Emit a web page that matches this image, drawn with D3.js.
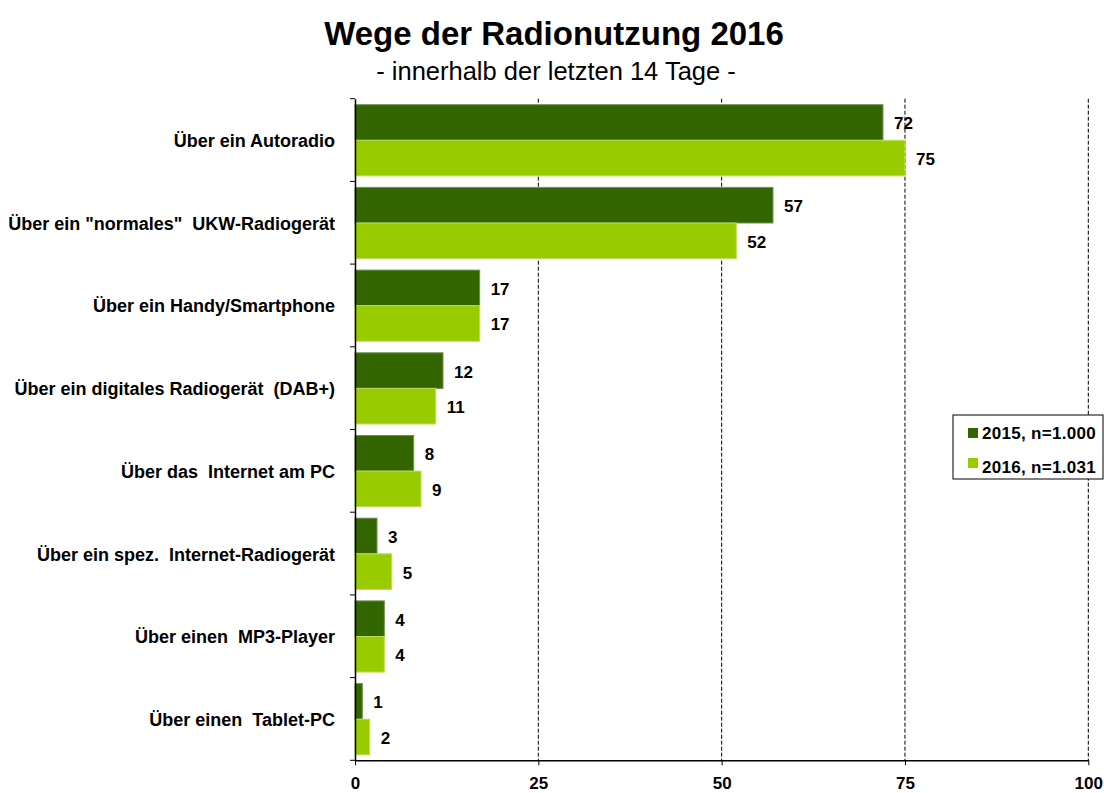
<!DOCTYPE html>
<html>
<head>
<meta charset="utf-8">
<script src="https://cdn.jsdelivr.net/npm/d3@7"></script>
<style>
  body { margin: 0; background: #fff; }
  svg text { font-family: "Liberation Sans", Arial, sans-serif; }
</style>
</head>
<body>
<div id="graph"></div>
<script>
// Daten
const categories = [
  'Über ein Autoradio',
  'Über ein "normales"  UKW-Radiogerät',
  'Über ein Handy/Smartphone',
  'Über ein digitales Radiogerät  (DAB+)',
  'Über das  Internet am PC',
  'Über ein spez.  Internet-Radiogerät',
  'Über einen  MP3-Player',
  'Über einen  Tablet-PC'
]
const values2015 = [72, 57, 17, 12, 8, 3, 4, 1]
const values2016 = [75, 52, 17, 11, 9, 5, 4, 2]
const seriesNames = ['2015, n=1.000', '2016, n=1.031']
const xTicks = [0, 25, 50, 75, 100]

const colors = ['#336600', '#99cc00']

let W = 1104, H = 793
let margin = { top: 98.7, left: 355 }
let width = 1088.3 - margin.left,
    height = 760.3 - margin.top

let svg = d3.select('#graph')
  .append('svg')
  .attr('width', W)
  .attr('height', H)

// Titel
svg.append('text')
  .attr('x', 554).attr('y', 45)
  .attr('text-anchor', 'middle')
  .style('font-size', '33px')
  .style('font-weight', 'bold')
  .text('Wege der Radionutzung 2016')

svg.append('text')
  .attr('x', 556).attr('y', 80)
  .attr('text-anchor', 'middle')
  .style('font-size', '25.5px')
  .text('- innerhalb der letzten 14 Tage -')

let g = svg.append('g')
  .attr('transform', 'translate(' + margin.left + ',' + margin.top + ')')

let x = d3.scaleLinear().domain([0, 100]).range([0, width])
let y = d3.scaleBand().domain(categories).range([0, height])
let inner = d3.scaleBand().domain([0, 1]).range([6, y.bandwidth() - 5.5])

// Gitterlinien
g.append('g')
  .selectAll('line')
  .data(xTicks.filter(d => d > 0))
  .join('line')
  .attr('x1', d => x(d)).attr('x2', d => x(d))
  .attr('y1', 0).attr('y2', height)
  .attr('stroke', '#000')
  .attr('stroke-width', 1)
  .attr('stroke-dasharray', '4,2')

// Balken
const series = [values2015, values2016]
series.forEach((vals, si) => {
  g.append('g')
    .selectAll('rect')
    .data(vals)
    .join('rect')
    .attr('x', 0)
    .attr('y', (d, i) => y(categories[i]) + inner(si))
    .attr('width', d => x(d))
    .attr('height', inner.bandwidth())
    .attr('fill', colors[si])
    .attr('stroke', si === 0 ? '#6f8f55' : '#bcdc60')
    .attr('stroke-width', 1)

  g.append('g')
    .selectAll('text')
    .data(vals)
    .join('text')
    .attr('x', d => x(d) + 11)
    .attr('y', (d, i) => y(categories[i]) + inner(si) + inner.bandwidth() / 2 + 7)
    .style('font-size', '17px')
    .style('font-weight', 'bold')
    .text(d => d)
})

// Achsen
let yAxis = g.append('g')
  .call(d3.axisLeft(y).tickSize(0).tickFormat(''))
yAxis.select('.domain').attr('stroke', '#000').attr('stroke-width', 1.5)
yAxis.append('g')
  .selectAll('line')
  .data(d3.range(categories.length + 1))
  .join('line')
  .attr('x1', -5).attr('x2', 0)
  .attr('y1', i => i * y.step()).attr('y2', i => i * y.step())
  .attr('stroke', '#000')

g.append('g')
  .selectAll('text')
  .data(categories)
  .join('text')
  .attr('x', -20)
  .attr('y', d => y(d) + y.bandwidth() / 2 + 7)
  .attr('text-anchor', 'end')
  .style('font-size', '18px')
  .style('font-weight', 'bold')
  .style('white-space', 'pre')
  .text(d => d)

let xAxis = g.append('g')
  .attr('transform', 'translate(0,' + height + ')')
  .call(d3.axisBottom(x).tickValues(xTicks).tickSize(5).tickSizeOuter(0))
xAxis.select('.domain').attr('stroke', '#000').attr('stroke-width', 1.5)
xAxis.selectAll('text')
  .attr('dy', null)
  .attr('y', 29)
  .style('font-size', '17px')
  .style('font-weight', 'bold')
  .style('font-family', '"Liberation Sans", Arial, sans-serif')
  .attr('fill', '#000')

// Legende
let legend = svg.append('g').attr('transform', 'translate(953,415)')
legend.append('rect')
  .attr('width', 150).attr('height', 64)
  .attr('fill', '#fff').attr('stroke', '#000').attr('stroke-width', 1)
seriesNames.forEach((s, i) => {
  legend.append('rect')
    .attr('x', 15).attr('y', 13 + i * 30)
    .attr('width', 10).attr('height', 10)
    .attr('fill', colors[i])
  legend.append('text')
    .attr('x', 29).attr('y', 24 + i * 34)
    .style('font-size', '17px')
    .style('font-weight', 'bold')
    .style('letter-spacing', '0.3px')
    .style('white-space', 'pre')
    .text(s)
})
</script>
</body>
</html>
